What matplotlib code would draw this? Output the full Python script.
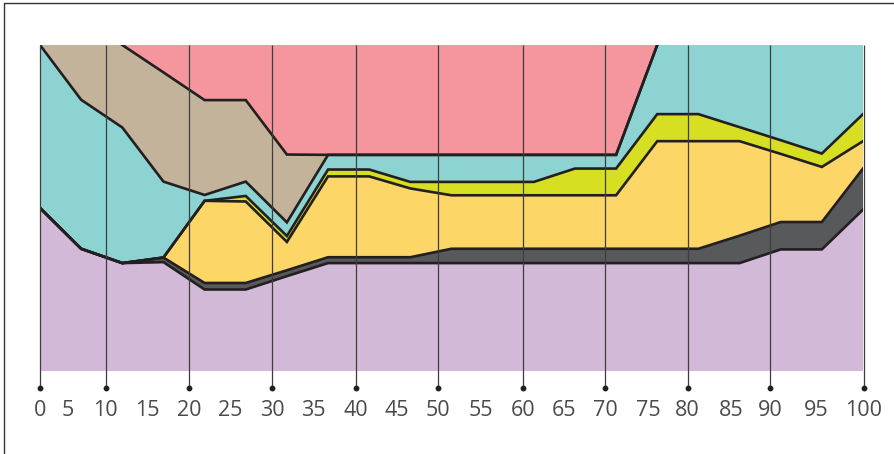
import numpy as np
import matplotlib.pyplot as plt
from matplotlib.lines import Line2D

# x positions of the data points (share, %)
x = [0, 5, 10, 15, 20, 25, 30, 35, 40, 45, 50, 55, 60, 65, 70, 75, 80, 85, 90, 95, 100]

# layer values, bottom to top (% of total)
purple = [50.0, 37.5, 33.1, 33.4, 25.0, 25.0, 29.1, 33.1, 33.1, 33.1, 33.1,
          33.1, 33.1, 33.1, 33.1, 33.1, 33.1, 33.1, 37.3, 37.3, 49.5]
dark = [0, 0, 0, 1.4, 2.0, 2.0, 1.8, 1.8, 1.8, 1.8, 4.4,
        4.4, 4.4, 4.4, 4.4, 4.4, 4.4, 8.4, 8.4, 8.4, 12.6]
yellow = [0, 0, 0, 0, 25.2, 25.0, 8.7, 24.8, 24.8, 21.1, 16.4,
          16.4, 16.4, 16.4, 16.4, 33.0, 33.0, 29.0, 20.9, 16.9, 8.4]
lime = [0, 0, 0, 0, 0, 1.7, 1.8, 2.1, 2.1, 2.0, 4.1,
        4.1, 4.1, 8.2, 8.2, 8.3, 8.3, 4.3, 4.2, 4.1, 8.3]
teal = [50.0, 45.7, 41.6, 23.3, 1.8, 4.4, 4.2, 4.5, 4.5, 8.3, 8.3,
        8.3, 8.3, 4.2, 4.2, 21.2, 21.2, 25.2, 29.2, 33.3, 21.2]
tan = [0, 16.8, 25.3, 33.5, 29.1, 25.0, 20.8, 0, 0, 0, 0,
       0, 0, 0, 0, 0, 0, 0, 0, 0, 0]
pink = [0, 0, 0, 8.4, 16.9, 16.9, 33.6, 33.7, 33.7, 33.7, 33.7,
        33.7, 33.7, 33.7, 33.7, 0, 0, 0, 0, 0, 0]

# axis labels (as printed, slightly offset from the data grid)
tick_labels = ['0', '5', '10', '15', '20', '25', '30', '35', '40', '45', '50',
               '55', '60', '65', '70', '75', '80', '85', '90', '95', '100']
tick_x = [0, 3.4, 8.0, 13.0, 18.1, 23.1, 28.2, 33.2, 38.4, 43.3, 48.4,
          53.6, 58.7, 63.7, 68.7, 73.9, 78.7, 84.0, 88.7, 94.3, 100.1]

colors = ['#d2b9d7', '#58595b', '#fdd668', '#d7df23', '#8cd3d2', '#c4b39b', '#f5969e']
EDGE = '#231f20'

fig = plt.figure(figsize=(8.94, 4.54), dpi=100)
ax = fig.add_axes([40/894, 1 - 395/454, 823/894, 350/454])
ax.set_xlim(0, 100)
ax.set_ylim(-7.36, 100)
ax.axis('off')

layers = np.array([purple, dark, yellow, lime, teal, tan, pink], dtype=float)
ax.stackplot(x, layers, colors=colors, linewidth=0, zorder=1)

# boundary lines, hidden where they run along the top edge
cum = np.cumsum(layers, axis=0)
for row in cum[:-1]:
    at_top = row >= 99.5
    keep = ~at_top.copy()
    for i in range(len(row)):
        if at_top[i]:
            left = i > 0 and not at_top[i - 1]
            right = i < len(row) - 1 and not at_top[i + 1]
            keep[i] = left or right
    y = np.where(keep, row, np.nan)
    ax.plot(x, y, color=EDGE, lw=1.9, solid_joinstyle='miter', zorder=3)

# vertical guide lines with dots
grid_x = tick_x[::2]
ax.vlines(grid_x, -5.2, 100, color='#3d3d3d', lw=0.9, zorder=4, clip_on=False)
ax.plot(grid_x, [-5.2] * len(grid_x), 'o', ms=3.2, color=EDGE, zorder=5, clip_on=False)

for tx, lab in zip(tick_x, tick_labels):
    ax.text(tx, -12.2, lab, ha='center', va='center', fontsize=15.5,
            color='#4a4a4a', family='Open Sans', clip_on=False)

# partial frame (top and left edge)
fig.add_artist(Line2D([4/894, 4/894, 1.0], [0, 1 - 3/454, 1 - 3/454],
                      color='#333333', lw=1.0))

fig.savefig('out.png', dpi=100)
